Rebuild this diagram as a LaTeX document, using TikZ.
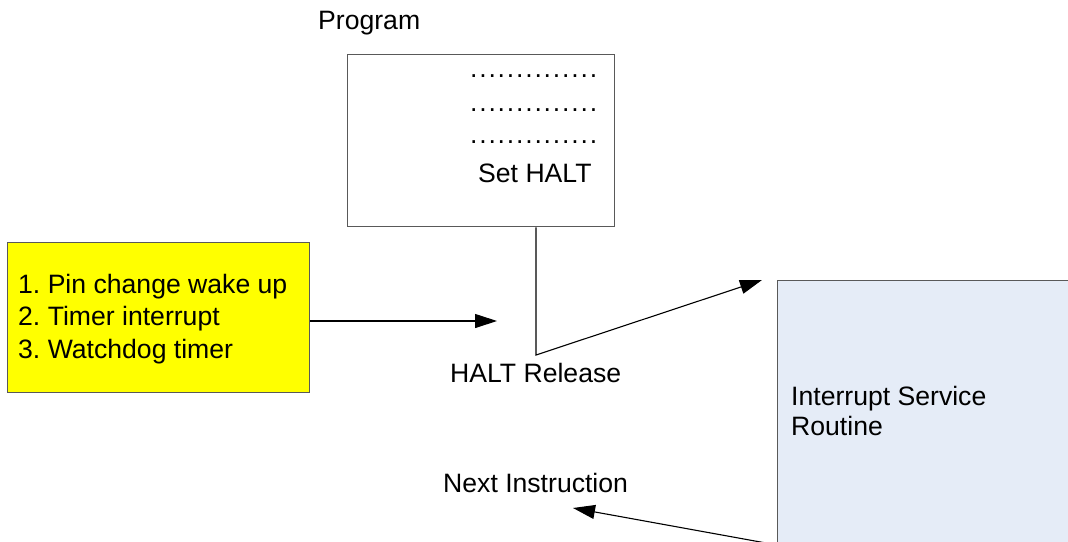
\documentclass[tikz,border=0pt]{standalone}
\usepackage{fontspec}
\setmainfont{Liberation Sans}
\usetikzlibrary{arrows.meta}
\definecolor{srcyellow}{RGB}{255,255,0}
\definecolor{isrblue}{RGB}{229,236,247}
\newcommand{\dotrow}{\foreach \k in {1,...,14}{\makebox[9.2pt]{.}}}
\frenchspacing
\begin{document}
\begin{tikzpicture}[x=1pt,y=-1pt,
  font=\fontsize{26.6}{32.5}\selectfont,
  box/.style={draw=black!65,line width=1.3pt,anchor=north west,inner sep=0pt},
  txt/.style={anchor=base west,inner sep=0pt},
  conn/.style={draw=black,line width=1.1pt},
  arr/.style={conn,-{Triangle[length=22pt,width=14pt]}}]
\useasboundingbox (0,0) rectangle (1068,541);
\clip (0,0) rectangle (1068,541);
% boxes
\node[box,fill=white,minimum width=267pt,minimum height=172pt] (prog) at (347,54) {};
\node[box,fill=srcyellow,minimum width=302pt,minimum height=150pt] (src) at (7,242) {};
\node[box,fill=isrblue,minimum width=320pt,minimum height=300pt] (isr) at (777,280) {};
% texts
\node[txt] (progl) at (318,29) {Program};
\node[txt] (d1) at (469,77) {\dotrow};
\node[txt] (d2) at (469,111) {\dotrow};
\node[txt] (d3) at (469,143) {\dotrow};
\node[txt] (set) at (478,182) {Set HALT};
\node[txt] (s1) at (18,293) {1. Pin change wake up};
\node[txt] (s2) at (18,325.5) {2. Timer interrupt};
\node[txt] (s3) at (18,358) {3. Watchdog timer};
\node[txt] (rel) at (450,382) {HALT Release};
\node[txt] (isr1) at (791,405) {Interrupt Service};
\node[txt] (isr2) at (791,435) {Routine};
\node[txt] (next) at (443,492) {Next Instruction};
% connectors
\coordinate (halt) at (536,355);
\coordinate (wake) at (497,321);
\coordinate (toisr) at (762,280);
\coordinate (back) at (573,508);
\coordinate (isrout) at (777,545);
\draw[arr] (src.east |- wake) -- (wake);
\draw[arr] (prog.south -| halt) -- (halt) -- (toisr);
\draw[arr] (isrout) -- (back);
\end{tikzpicture}
\end{document}
